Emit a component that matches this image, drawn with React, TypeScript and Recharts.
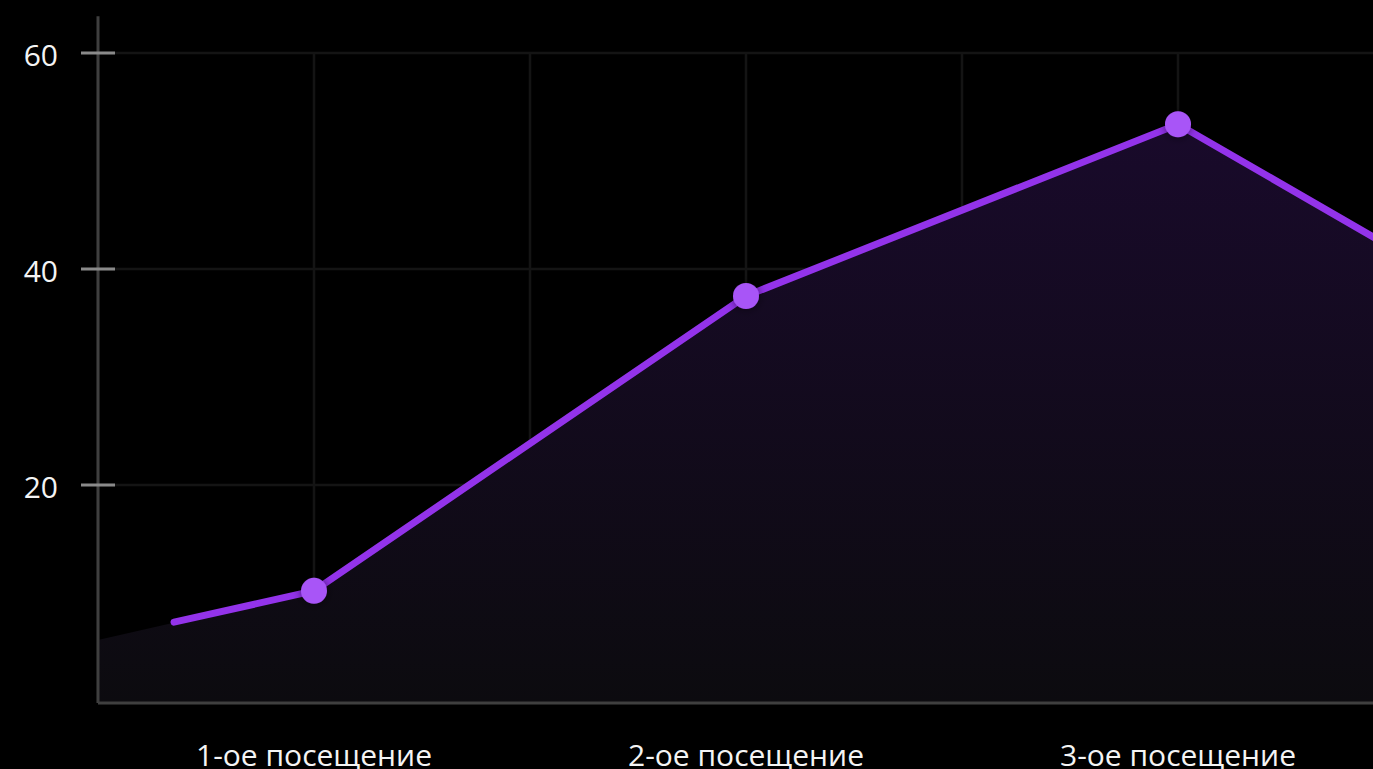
import React from "react";
import {
  ComposedChart,
  Line,
  Area,
  XAxis,
  YAxis,
  CartesianGrid,
  ReferenceLine,
} from "recharts";

// Categories (visit number -> label)
const visitPositions = [1, 2, 3];
const visitLabels = ["1-ое посещение", "2-ое посещение", "3-ое посещение"];

// Line series (x = visit position, y = value)
const lineX = [0.676, 1, 2, 3, 4];
const lineY = [7.3, 10.2, 37.5, 53.4, 30.3];

// Area series under the line
const areaX = [0.5, 1, 2, 3, 4];
const areaY = [5.65, 10.2, 37.5, 53.4, 30.3];

// Axis ticks
const xGridTicks = [0.5, 1, 1.5, 2, 2.5, 3, 3.5];
const yTicks = [20, 40, 60];
const xDomain = [0.5, 3.5];
const yDomain = [-0.185, 60];
const yAxisTop = 63.4;

const lineData = lineX.map((x, i) => ({ x, value: lineY[i] }));
const areaData = areaX.map((x, i) => ({ x, value: areaY[i] }));

const FONT = "'Open Sans', 'Noto Sans', sans-serif";

const YTick = (props: any) => {
  const { x, y, payload } = props;
  return (
    <g>
      <line x1={x + 23} x2={x + 57} y1={y} y2={y} stroke="#8a8a8a" strokeWidth={3} />
      <text
        x={x}
        y={y}
        dy={13}
        textAnchor="end"
        fill="#f4f4f4"
        fontSize={30}
        fontFamily={FONT}
        fontWeight={400}
      >
        {payload.value}
      </text>
    </g>
  );
};

const XTick = (props: any) => {
  const { x, y, payload } = props;
  const idx = visitPositions.indexOf(payload.value);
  if (idx < 0) return <g />;
  return (
    <text
      x={x}
      y={y}
      dy={21}
      textAnchor="middle"
      fill="#f4f4f4"
      fontSize={30}
      fontFamily={FONT}
      fontWeight={400}
    >
      {visitLabels[idx]}
    </text>
  );
};

const Dot = (props: any) => {
  const { cx, cy, payload, index } = props;
  if (!visitPositions.includes(payload.x)) return <g key={`d${index}`} />;
  return (
    <circle
      key={`d${index}`}
      cx={cx}
      cy={cy}
      r={13}
      fill="#a855f7"
      filter="url(#dotShadow)"
    />
  );
};

export default function App() {
  return (
    <div
      style={{
        position: "fixed",
        left: 0,
        top: 0,
        width: 1373,
        height: 769,
        overflow: "hidden",
        background: "#000",
      }}
    >
      <ComposedChart
        width={1394}
        height={800}
        margin={{ top: 53, right: 0, bottom: 37, left: 0 }}
      >
        <defs>
          <linearGradient id="areaFill" x1="0" y1="0" x2="0" y2="1">
            <stop offset="0%" stopColor="#190a2b" />
            <stop offset="100%" stopColor="#0c0b0f" />
          </linearGradient>
          <filter id="dotShadow" x="-100%" y="-100%" width="300%" height="300%">
            <feDropShadow dx="0" dy="0" stdDeviation="5" floodColor="#000" floodOpacity="0.55" />
          </filter>
        </defs>
        <CartesianGrid stroke="#141414" strokeWidth={2.5} />
        <XAxis
          type="number"
          dataKey="x"
          domain={xDomain}
          allowDataOverflow
          ticks={xGridTicks}
          interval={0}
          axisLine={{ stroke: "#3f3f3f", strokeWidth: 3 }}
          tickLine={false}
          tickSize={0}
          tickMargin={42}
          height={60}
          tick={<XTick />}
        />
        <YAxis
          type="number"
          domain={yDomain}
          allowDataOverflow
          ticks={yTicks}
          width={98}
          axisLine={false}
          tickLine={false}
          tickSize={17}
          tickMargin={23}
          tick={<YTick />}
        />
        <Area
          data={areaData}
          dataKey="value"
          type="linear"
          stroke="none"
          fill="url(#areaFill)"
          fillOpacity={1}
          baseValue="dataMin"
          isAnimationActive={false}
        />
        <ReferenceLine
          segment={[
            { x: xDomain[0], y: yDomain[0] },
            { x: xDomain[0], y: yAxisTop },
          ]}
          ifOverflow="visible"
          stroke="#3f3f3f"
          strokeWidth={3}
        />
        <Line
          data={lineData}
          dataKey="value"
          type="linear"
          stroke="#9333ea"
          strokeWidth={7}
          strokeLinecap="round"
          dot={<Dot />}
          activeDot={false}
          isAnimationActive={false}
        />
      </ComposedChart>
    </div>
  );
}
